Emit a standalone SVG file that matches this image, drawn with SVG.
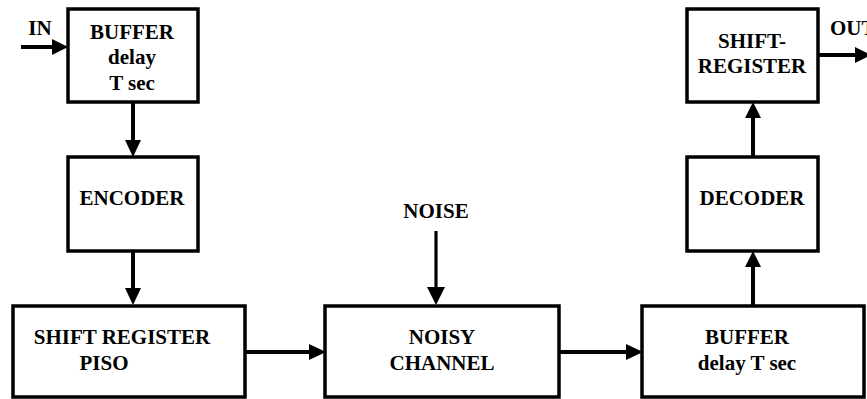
<svg xmlns="http://www.w3.org/2000/svg" width="867" height="399" viewBox="0 0 867 399">
<defs>
<style>
.box{fill:#fff;stroke:#000;stroke-width:3.5}
.t{font-family:'Liberation Serif','Times New Roman','DejaVu Serif',serif;font-weight:bold;font-size:21px;fill:#000;text-anchor:middle}
.c{stroke:#000;stroke-width:4;fill:none}
.ah{fill:#000}
</style>
</defs>
<rect width="867" height="399" fill="#fff"/>
<g id="connectors">
<line class="c" x1="21" y1="47" x2="54" y2="47"/>
<polygon class="ah" points="68,47 52,39 52,55"/>
<line class="c" x1="133" y1="102" x2="133" y2="142"/>
<polygon class="ah" points="133,157 125,140 141,140"/>
<line class="c" x1="133" y1="251" x2="133" y2="290"/>
<polygon class="ah" points="133,305 125,288 141,288"/>
<line class="c" x1="245" y1="352" x2="311" y2="352"/>
<polygon class="ah" points="326,352 309,344 309,360"/>
<line class="c" x1="436" y1="231" x2="436" y2="290" style="stroke-width:3.2"/>
<polygon class="ah" points="436,305 427,287 445,287"/>
<line class="c" x1="559" y1="352" x2="628" y2="352"/>
<polygon class="ah" points="643,352 626,344 626,360"/>
<line class="c" x1="753" y1="306" x2="753" y2="266"/>
<polygon class="ah" points="753,251 745,267 761,267"/>
<line class="c" x1="753" y1="157" x2="753" y2="118"/>
<polygon class="ah" points="753,102 745,118 761,118"/>
<line class="c" x1="818" y1="55" x2="857" y2="55"/>
<polygon class="ah" points="871,55 855,47 855,63"/>
</g>
<g id="label-in"><text class="t" x="40" y="35">IN</text></g>
<g id="label-noise"><text class="t" x="436" y="218">NOISE</text></g>
<g id="label-out"><text class="t" x="830" y="35" style="text-anchor:start">OUT</text></g>
<g id="buffer-in">
<rect class="box" x="68" y="9" width="130" height="93"/>
<text class="t" x="132" y="39">BUFFER</text>
<text class="t" x="132" y="64">delay</text>
<text class="t" x="132" y="90">T sec</text>
</g>
<g id="encoder">
<rect class="box" x="68" y="157" width="130" height="94"/>
<text class="t" x="132" y="205">ENCODER</text>
</g>
<g id="shift-register-piso">
<rect class="box" x="13" y="306" width="232" height="91"/>
<text class="t" x="122" y="344">SHIFT REGISTER</text>
<text class="t" x="104" y="370">PISO</text>
</g>
<g id="noisy-channel">
<rect class="box" x="325" y="306" width="234" height="91"/>
<text class="t" x="442" y="344">NOISY</text>
<text class="t" x="442" y="370">CHANNEL</text>
</g>
<g id="buffer-out">
<rect class="box" x="642" y="306" width="222" height="91"/>
<text class="t" x="747" y="344">BUFFER</text>
<text class="t" x="747" y="370">delay T sec</text>
</g>
<g id="decoder">
<rect class="box" x="687" y="157" width="131" height="94"/>
<text class="t" x="752" y="205">DECODER</text>
</g>
<g id="shift-register-out">
<rect class="box" x="687" y="9" width="131" height="93"/>
<text class="t" x="752" y="48">SHIFT-</text>
<text class="t" x="752" y="73">REGISTER</text>
</g>
</svg>
